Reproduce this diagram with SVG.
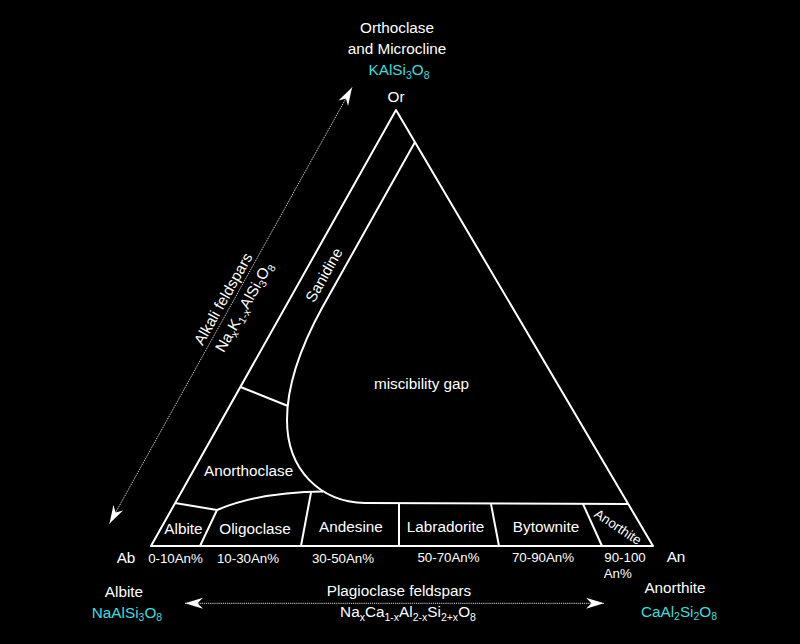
<svg xmlns="http://www.w3.org/2000/svg" width="800" height="644" viewBox="0 0 800 644">
<style>
text{font-family:"Liberation Sans",Arial,sans-serif;fill:#fff}
.t15{font-size:15.3px}
.t13{font-size:13.3px}
.cy{fill:#3ddede}
.ln{fill:none;stroke:#fff;stroke-width:2;stroke-linejoin:round}
.dot{fill:none;stroke:#d8d8d8;stroke-width:1;stroke-dasharray:1.2,0.9}
</style>
<defs>
<marker id="ah" viewBox="-19 -6 20 12" refX="0" refY="0" markerWidth="20" markerHeight="12" markerUnits="userSpaceOnUse" orient="auto-start-reverse">
<path d="M0,0 L-18,-5.5 L-12.5,0 L-18,5.5 Z" fill="#fff"/>
</marker>
</defs>
<rect width="800" height="644" fill="#000"/>

<g id="connectors">
<polygon class="ln" points="396,110 151,546 653,546"/>
<path class="ln" d="M415,142 L322,308 C300,348 287,385 287,420 C287,470 320,502 365,503 L628,504"/>
<path class="ln" d="M240.5,387 L288,406"/>
<path class="ln" d="M323,491.5 Q260,492 217,510"/>
<path class="ln" d="M175,503 L217,510 L200,546"/>
<path class="ln" d="M311,492.5 L301,546"/>
<path class="ln" d="M399,503.5 L399,546"/>
<path class="ln" d="M491,504 L499,546"/>
<path class="ln" d="M583,504 L602,546"/>
<line class="dot" x1="109.5" y1="523.5" x2="352" y2="87.5" marker-start="url(#ah)" marker-end="url(#ah)"/>
<line class="dot" x1="185" y1="603.3" x2="604" y2="603.3" marker-start="url(#ah)" marker-end="url(#ah)"/>
</g>

<g id="orthoclase">
<text class="t15" x="397" y="32.5" text-anchor="middle">Orthoclase</text>
<text class="t15" x="397" y="53.5" text-anchor="middle">and Microcline</text>
<text class="t15 cy" x="399" y="75" text-anchor="middle">KAlSi<tspan font-size="10.5" dy="3.5">3</tspan><tspan dy="-3.5">O</tspan><tspan font-size="10.5" dy="3.5">8</tspan></text>
<text class="t15" x="396" y="101.5" text-anchor="middle">Or</text>
</g>

<g id="alkali">
<text class="t15" text-anchor="middle" transform="translate(227.7,301.5) rotate(-60.67)">Alkali feldspars</text>
<text class="t15" text-anchor="middle" transform="translate(248.4,309.5) rotate(-60.67)">Na<tspan font-size="10.5" dy="3.5">x</tspan><tspan dy="-3.5">K</tspan><tspan font-size="10.5" dy="3.5">1-x</tspan><tspan dy="-3.5">AlSi</tspan><tspan font-size="10.5" dy="3.5">3</tspan><tspan dy="-3.5">O</tspan><tspan font-size="10.5" dy="3.5">8</tspan></text>
</g>

<g id="sanidine">
<text class="t15" text-anchor="middle" transform="translate(328.6,277.5) rotate(-60.67)">Sanidine</text>
</g>
<g id="miscibility-gap">
<text class="t15" x="421.5" y="388.5" text-anchor="middle">miscibility gap</text>
</g>
<g id="anorthoclase">
<text class="t15" x="248.6" y="475.5" text-anchor="middle">Anorthoclase</text>
</g>
<g id="albite-field">
<text class="t15" x="183.5" y="534" text-anchor="middle">Albite</text>
<text class="t13" x="175.5" y="562.7" text-anchor="middle">0-10An%</text>
</g>
<g id="oligoclase">
<text class="t15" x="255" y="534" text-anchor="middle">Oligoclase</text>
<text class="t13" x="248" y="562.7" text-anchor="middle">10-30An%</text>
</g>
<g id="andesine">
<text class="t15" x="351" y="532.3" text-anchor="middle">Andesine</text>
<text class="t13" x="343" y="562.5" text-anchor="middle">30-50An%</text>
</g>
<g id="labradorite">
<text class="t15" x="445.5" y="532.3" text-anchor="middle">Labradorite</text>
<text class="t13" x="448.5" y="562.3" text-anchor="middle">50-70An%</text>
</g>
<g id="bytownite">
<text class="t15" x="546" y="532.3" text-anchor="middle">Bytownite</text>
<text class="t13" x="543" y="562.3" text-anchor="middle">70-90An%</text>
</g>
<g id="anorthite-field">
<text class="t13" text-anchor="middle" transform="translate(615.5,530.7) rotate(33.7)">Anorthite</text>
<text class="t13" x="625" y="562.3" text-anchor="middle">90-100</text>
<text class="t13" x="617.7" y="578.3" text-anchor="middle">An%</text>
</g>

<g id="ab">
<text class="t15" x="126" y="563" text-anchor="middle">Ab</text>
</g>
<g id="an">
<text class="t15" x="676" y="561.5" text-anchor="middle">An</text>
</g>

<g id="albite">
<text class="t15" x="124" y="596.7" text-anchor="middle">Albite</text>
<text class="t15 cy" x="127" y="617.5" text-anchor="middle">NaAlSi<tspan font-size="10.5" dy="3.5">3</tspan><tspan dy="-3.5">O</tspan><tspan font-size="10.5" dy="3.5">8</tspan></text>
</g>
<g id="plagioclase">
<text class="t15" x="399" y="596" text-anchor="middle">Plagioclase feldspars</text>
<text class="t15" x="408" y="617.3" text-anchor="middle">Na<tspan font-size="10.5" dy="3.5">x</tspan><tspan dy="-3.5">Ca</tspan><tspan font-size="10.5" dy="3.5">1-x</tspan><tspan dy="-3.5">Al</tspan><tspan font-size="10.5" dy="3.5">2-x</tspan><tspan dy="-3.5">Si</tspan><tspan font-size="10.5" dy="3.5">2+x</tspan><tspan dy="-3.5">O</tspan><tspan font-size="10.5" dy="3.5">8</tspan></text>
</g>
<g id="anorthite">
<text class="t15" x="675" y="593.3" text-anchor="middle">Anorthite</text>
<text class="t15 cy" x="679" y="616.7" text-anchor="middle">CaAl<tspan font-size="10.5" dy="3.5">2</tspan><tspan dy="-3.5">Si</tspan><tspan font-size="10.5" dy="3.5">2</tspan><tspan dy="-3.5">O</tspan><tspan font-size="10.5" dy="3.5">8</tspan></text>
</g>
</svg>
